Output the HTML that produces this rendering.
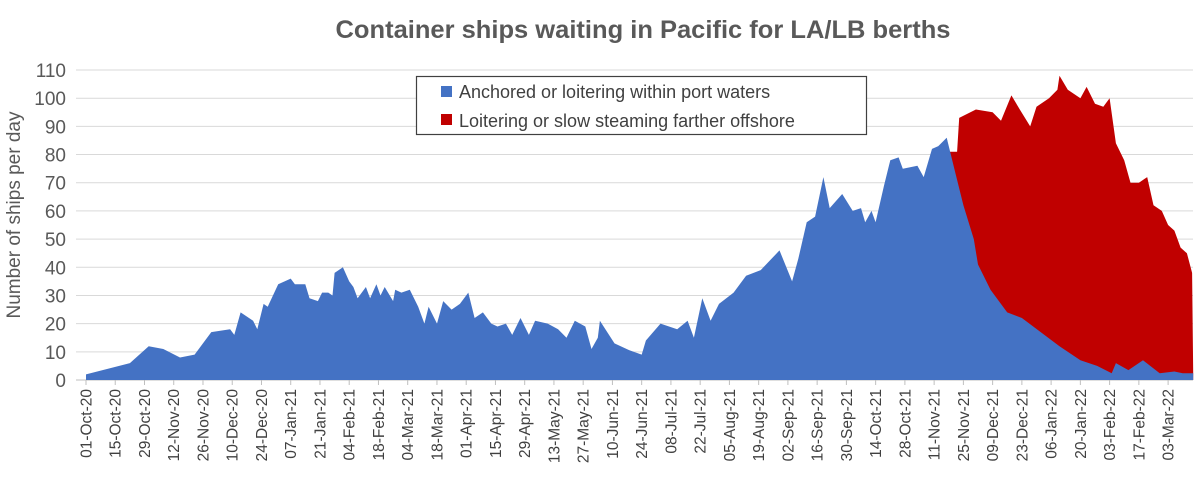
<!DOCTYPE html>
<html><head><meta charset="utf-8"><style>
html,body{margin:0;padding:0;background:#fff;}
svg{display:block;font-family:"Liberation Sans",sans-serif;}
</style></head><body>
<svg id="c" width="1200" height="482" viewBox="0 0 1200 482" xmlns="http://www.w3.org/2000/svg">
<rect width="1200" height="482" fill="#fff"/>
<text x="643" y="38" text-anchor="middle" font-size="25" font-weight="bold" fill="#595959" textLength="615" lengthAdjust="spacingAndGlyphs">Container ships waiting in Pacific for LA/LB berths</text>
<g id="grid"></g>
<path id="red" fill="#c00000"/>
<path id="blue" fill="#4472c4"/>
<g id="xl"></g>
<text transform="translate(20,215) rotate(-90)" text-anchor="middle" font-size="19" fill="#595959">Number of ships per day</text>
<rect x="416.5" y="76.5" width="450" height="58" fill="#fff" stroke="#404040" stroke-width="1.2"/>
<rect x="441" y="86" width="11" height="11" fill="#4472c4"/>
<text x="459" y="98" font-size="18" fill="#404040">Anchored or loitering within port waters</text>
<rect x="441" y="114" width="11" height="11" fill="#c00000"/>
<text x="459" y="127" font-size="18" fill="#404040">Loitering or slow steaming farther offshore</text>
</svg>
<script>
var X0=86,PD=2.089,Y0=380,PU=2.818;
function X(d){return X0+d*PD}function Y(v){return Y0-v*PU}
var ns="http://www.w3.org/2000/svg";
var g=document.getElementById('grid');
for(var v=0;v<=110;v+=10){
 var l=document.createElementNS(ns,'line');l.setAttribute('x1',76);l.setAttribute('x2',1193);
 l.setAttribute('y1',Y(v));l.setAttribute('y2',Y(v));l.setAttribute('stroke',v==0?'#bfbfbf':'#d9d9d9');l.setAttribute('stroke-width',1);g.appendChild(l);
 var t=document.createElementNS(ns,'text');t.setAttribute('x',66);t.setAttribute('y',Y(v)+7);t.setAttribute('text-anchor','end');
 t.setAttribute('font-size',19);t.setAttribute('fill','#595959');t.textContent=v;g.appendChild(t);
}
var labs=["01-Oct-20","15-Oct-20","29-Oct-20","12-Nov-20","26-Nov-20","10-Dec-20","24-Dec-20","07-Jan-21","21-Jan-21","04-Feb-21","18-Feb-21","04-Mar-21","18-Mar-21","01-Apr-21","15-Apr-21","29-Apr-21","13-May-21","27-May-21","10-Jun-21","24-Jun-21","08-Jul-21","22-Jul-21","05-Aug-21","19-Aug-21","02-Sep-21","16-Sep-21","30-Sep-21","14-Oct-21","28-Oct-21","11-Nov-21","25-Nov-21","09-Dec-21","23-Dec-21","06-Jan-22","20-Jan-22","03-Feb-22","17-Feb-22","03-Mar-22"];
var xl=document.getElementById('xl');
labs.forEach(function(s,i){var x=X(i*14);
 var l=document.createElementNS(ns,'line');l.setAttribute('x1',x);l.setAttribute('x2',x);l.setAttribute('y1',380);l.setAttribute('y2',385);l.setAttribute('stroke','#bfbfbf');xl.appendChild(l);
 var t=document.createElementNS(ns,'text');t.setAttribute('transform','translate('+(x+5.5)+',389) rotate(-90)');t.setAttribute('text-anchor','end');
 t.setAttribute('font-size',15.5);t.setAttribute('fill','#404040');t.textContent=s;xl.appendChild(t);});
var blue=[[0,2],[21,6],[30,12],[37,11],[45,8],[52,9],[60,17],[69,18],[71,16],[74,24],[80,21],[82,18],[83,21],[85,27],[87,26],[92,34],[98,36],[100,34],[105,34],[107,29],[111,28],[113,31],[116,31],[118,30],[119,38],[123,40],[126,35],[128,33],[130,29],[134,33],[136,29],[139,34],[141,30],[143,33],[147,28],[148,32],[151,31],[155,32],[159,26],[162,20],[164,26],[168,20],[171,28],[175,25],[179,27],[183,31],[186,22],[190,24],[194,20],[197,19],[201,20],[204,16],[208,22],[212,16],[215,21],[221,20],[226,18],[230,15],[234,21],[239,19],[242,11],[245,15],[246,21],[253,13],[260,10.6],[266,9],[268,14],[275,20],[283,18],[288,21],[291,15],[295,29],[299,21],[303,27],[310,31],[316,37],[323,39],[332,46],[338,35],[341,43],[345,56],[349,58],[353,72],[356,61],[362,66],[367,60],[371,61],[373,56],[376,60],[378,56],[382,69],[385,78],[389,79],[391,75],[398,76],[401,72],[405,82],[408,83],[412,86],[416,74],[420,62],[425,50],[427,41],[433,32],[441,24],[448,22],[457,17],[466,12],[476,7],[484,5],[491,2.4],[493,6],[499,3.5],[506,7],[514,2.4],[521,3],[525,2.4],[530,2.4]];
var red=[[412,86],[413,81],[417,81],[418,93],[426,96],[434,95],[438,92],[443,101],[447,96],[452,90],[455,97],[461,100],[465,103],[466,108],[470,103],[476,100],[479,104],[483,98],[487,97],[490,100],[493,84],[497,78],[500,70],[504,70],[508,72],[511,62],[515,60],[518,55],[521,53],[524,47],[527,45],[529.5,38],[530,2.4]];
function path(a){var s='M'+X(a[0][0])+','+Y(0);a.forEach(function(p){s+='L'+X(p[0]).toFixed(1)+','+Y(p[1]).toFixed(1)});return s+'L'+X(a[a.length-1][0])+','+Y(0)+'Z';}
document.getElementById('blue').setAttribute('d',path(blue));
document.getElementById('red').setAttribute('d',path(red));
</script>
</body></html>
